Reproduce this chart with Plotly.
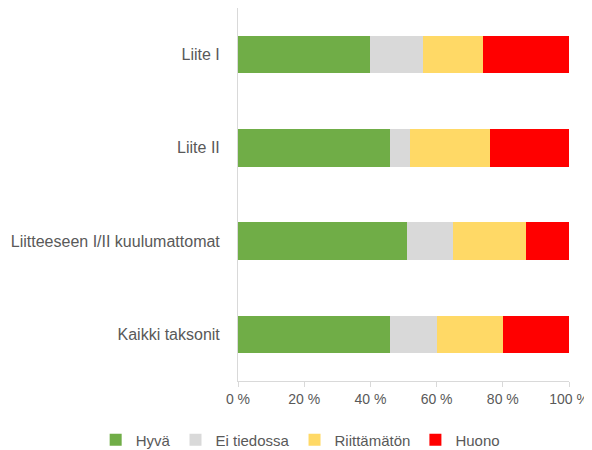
import plotly.graph_objects as go

categories = ["Liite I", "Liite II", "Liitteeseen I/II kuulumattomat", "Kaikki taksonit"]
series_names = ["Hyvä", "Ei tiedossa", "Riittämätön", "Huono"]
hyva = [40, 46, 51, 46]
ei_tiedossa = [16, 6, 14, 14]
riittamaton = [18, 24, 22, 20]
huono = [26, 24, 13, 20]
tick_vals = [0, 20, 40, 60, 80, 100]
tick_text = ["0 %", "20 %", "40 %", "60 %", "80 %", "100 %"]
colors = ["#70AD47", "#D9D9D9", "#FFD966", "#FF0000"]

fig = go.Figure()
for name, vals, col in zip(series_names, [hyva, ei_tiedossa, riittamaton, huono], colors):
    fig.add_trace(go.Bar(y=categories, x=vals, name=name, orientation="h",
                         marker=dict(color=col, line=dict(width=0))))

font_family = "Liberation Sans, Arial"
fig.update_layout(
    barmode="stack",
    bargap=0.6,
    width=584, height=442,
    margin=dict(l=230, r=23, t=0, b=69, autoexpand=False),
    paper_bgcolor="white", plot_bgcolor="white",
    font=dict(family=font_family, size=16, color="#595959"),
    showlegend=True,
    legend=dict(orientation="h", x=-0.43, xanchor="left",
                y=-0.158, yanchor="middle",
                font=dict(size=15, color="#595959"), itemwidth=30, traceorder="normal"),
    xaxis=dict(range=[0, 100], tickvals=tick_vals, ticktext=tick_text, showgrid=False,
               showline=True, linecolor="#D9D9D9", linewidth=1, ticks="outside",
               tickcolor="#D9D9D9", ticklen=5, zeroline=False, automargin=False,
               tickfont=dict(size=14, color="#595959")),
    yaxis=dict(categoryorder="array", categoryarray=categories[::-1], showgrid=False,
               showline=True, linecolor="#D9D9D9", linewidth=1, ticks="",
               automargin=False, ticklabelstandoff=14,
               tickfont=dict(size=16, color="#595959")),
)
fig.write_html("out.html")
